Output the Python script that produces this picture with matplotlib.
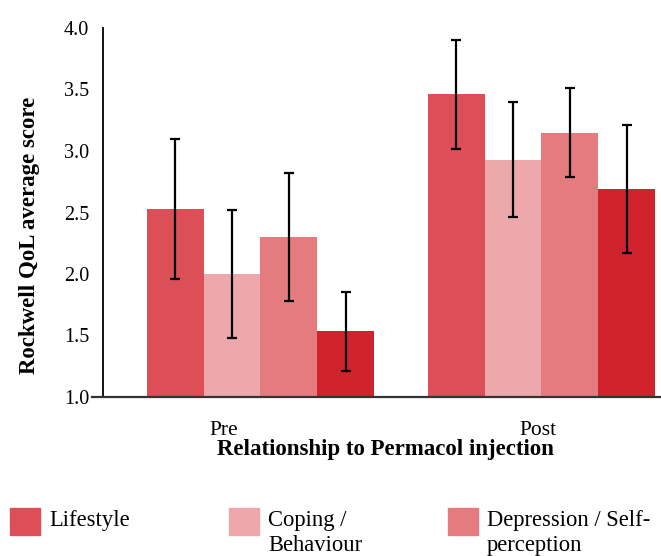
import matplotlib.pyplot as plt
import matplotlib.transforms as mtransforms
from matplotlib.patches import Rectangle
import numpy as np

plt.rcParams['font.family'] = ['Liberation Serif', 'DejaVu Serif']

groups = ['Pre', 'Post']
series = ['Lifestyle', 'Coping /\nBehaviour', 'Depression / Self-\nperception', 'Embarrassment']
colors = ['#DC4F57', '#EDA8AB', '#E47B7F', '#D1232B']

lifestyle = [2.53, 3.46]
lifestyle_sd = [0.57, 0.44]
coping = [2.00, 2.93]
coping_sd = [0.52, 0.47]
depression = [2.30, 3.15]
depression_sd = [0.52, 0.365]
embarrassment = [1.535, 2.69]
embarrassment_sd = [0.32, 0.52]

values = [lifestyle, coping, depression, embarrassment]
errors = [lifestyle_sd, coping_sd, depression_sd, embarrassment_sd]

W, H = 661, 556
fig = plt.figure(figsize=(W / 100, H / 100), dpi=100)
ax = fig.add_axes([92 / W, 1 - 397 / H, 1 - 92 / W, (397 - 28) / H])

x = np.arange(len(groups))
width = 0.2028
for i, (vals, errs) in enumerate(zip(values, errors)):
    pos = x + (i - 1.5) * width
    ax.bar(pos, vals, width, color=colors[i], linewidth=0, zorder=2)
    ax.errorbar(pos, vals, yerr=errs, fmt='none', ecolor='black',
                elinewidth=1.6, capsize=3.8, capthick=1.6, zorder=3)

for s in ['top', 'right']:
    ax.spines[s].set_visible(False)
ax.spines['left'].set_position(('data', -0.5605))
ax.spines['left'].set_linewidth(1.3)
ax.spines['bottom'].set_linewidth(1.6)
ax.spines['bottom'].set_color('#333333')

ax.set_ylim(1.0, 4.0)
ax.set_xlim(-0.5996, 1.4253)
yt = np.arange(1.0, 4.01, 0.5)
ax.set_yticks(yt)
ax.set_yticklabels([f'{v:.1f}' for v in yt], fontsize=14.5)
ax.set_xticks(x)
ax.set_xticklabels(groups, fontsize=15.5)
ax.tick_params(axis='both', length=0)
ax.tick_params(axis='y', pad=10)
ax.tick_params(axis='x', pad=17)

# category labels sit a little left of the bar groups in the original
for lab, dx in zip(ax.get_xticklabels(), [-36.5, -3.5]):
    lab.set_transform(lab.get_transform() +
                      mtransforms.ScaledTranslation(dx / 100, 0, fig.dpi_scale_trans))

ax.set_ylabel('Rockwell QoL average score', fontsize=16.5, fontweight='bold')
ax.yaxis.label.set_va('center')
ax.yaxis.set_label_coords(-0.1107, 0.439)
ax.set_xlabel('Relationship to Permacol injection', fontsize=16.5, fontweight='bold')
ax.xaxis.label.set_va('baseline')
ax.xaxis.set_label_coords(0.515, -0.157)

# legend along the bottom (the fourth entry falls outside the cropped picture)
for i, name in enumerate(series[:3]):
    x0 = 10 + i * 219
    fig.patches.append(Rectangle((x0 / W, 1 - 535 / H), 30 / W, 27 / H,
                                 transform=fig.transFigure, color=colors[i]))
    fig.text((x0 + 39) / W, 1 - 510 / H, name, fontsize=16.3, va='top',
             ha='left', linespacing=1.22)

fig.savefig('out.png', dpi=100)
